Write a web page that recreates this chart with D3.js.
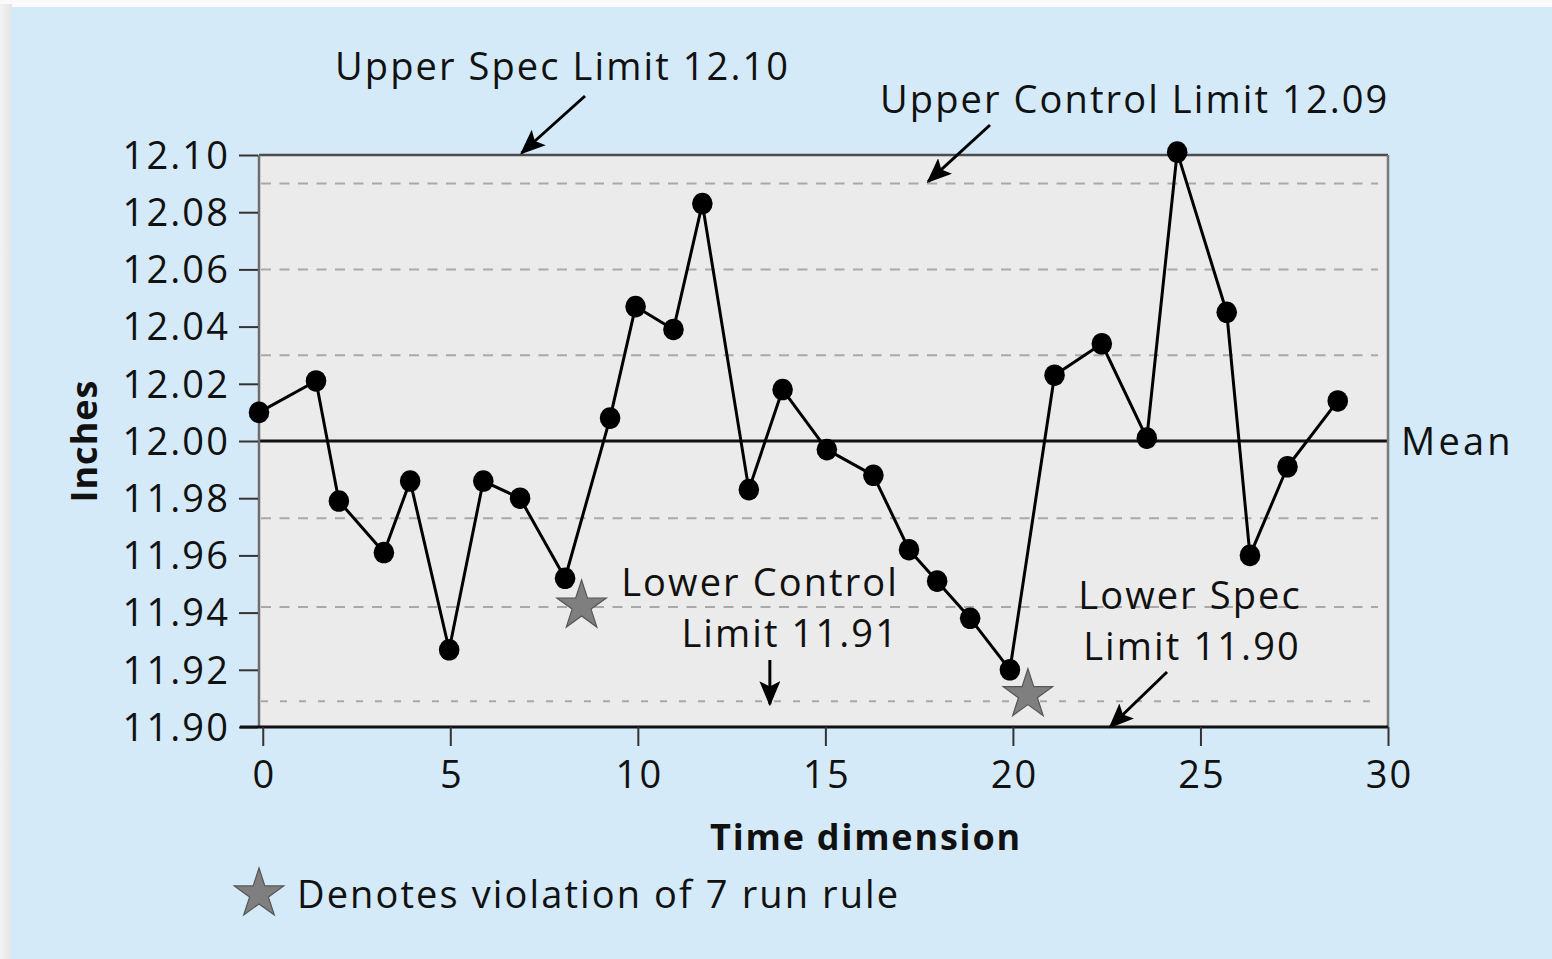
<!DOCTYPE html>
<html>
<head>
<meta charset="utf-8">
<script src="https://cdn.jsdelivr.net/npm/d3@7"></script>
<style>
  html, body { margin: 0; padding: 0; background: #ffffff; }
  svg { display: block; }
  text { font-family: "Open Sans", "Noto Sans", sans-serif; fill: #111; }
</style>
</head>
<body>
<svg id="chart" width="1552" height="959"></svg>
<script>
// ---- data ----
const timeValues = [-0.1, 1.42, 2.03, 3.23, 3.93, 4.97, 5.88, 6.86, 8.06, 9.26,
                    9.94, 10.95, 11.72, 12.96, 13.86, 15.04, 16.28, 17.23, 17.98, 18.86,
                    19.92, 21.11, 22.37, 23.57, 24.38, 25.70, 26.32, 27.32, 28.66];
const inchValues = [12.010, 12.021, 11.979, 11.961, 11.986, 11.927, 11.986, 11.980, 11.952, 12.008,
                    12.047, 12.039, 12.083, 11.983, 12.018, 11.997, 11.988, 11.962, 11.951, 11.938,
                    11.920, 12.023, 12.034, 12.001, 12.101, 12.045, 11.960, 11.991, 12.014];
const starTimes  = [8.50, 20.40];
const starValues = [11.943, 11.912];
const zoneLines  = [12.09, 12.06, 12.03, 11.973, 11.942, 11.909];
const meanValue  = 12.00;
const xTicks = [0, 5, 10, 15, 20, 25, 30];
const yTicks = [12.10, 12.08, 12.06, 12.04, 12.02, 12.00, 11.98, 11.96, 11.94, 11.92, 11.90];
const xDomain = [-0.1, 30];
const yDomain = [11.90, 12.10];

// ---- layout ----
const svg = d3.select("#chart");
const W = 1552, H = 959;
const plot = { left: 259, right: 1388, top: 155, bottom: 727 };
const FS = 38, LS = 2.1;

const x = d3.scaleLinear().domain(xDomain).range([plot.left, plot.right]);
const y = d3.scaleLinear().domain(yDomain).range([plot.bottom, plot.top]);

// background panel
const defs = svg.append("defs");
const grad = defs.append("linearGradient").attr("id", "shadow").attr("x1", 0).attr("x2", 1);
grad.append("stop").attr("offset", "0%").attr("stop-color", "#f3f3f3");
grad.append("stop").attr("offset", "100%").attr("stop-color", "#e4e4e4");
svg.append("rect").attr("x", 0).attr("y", 0).attr("width", W).attr("height", H).attr("fill", "#fbfbfb");
svg.append("rect").attr("x", 0).attr("y", 4).attr("width", 12).attr("height", H).attr("fill", "url(#shadow)");
svg.append("rect").attr("x", 11).attr("y", 7).attr("width", W - 11).attr("height", H - 7).attr("fill", "#d4eaf8");

// plot area
svg.append("rect")
  .attr("x", plot.left).attr("y", plot.top)
  .attr("width", plot.right - plot.left).attr("height", plot.bottom - plot.top)
  .attr("fill", "#ebebeb");

// zone dashed lines
svg.append("g").selectAll("line").data(zoneLines).join("line")
  .attr("x1", plot.left + 2).attr("x2", plot.right - 10)
  .attr("y1", d => y(d)).attr("y2", d => y(d))
  .attr("stroke", "#a9a9a9").attr("stroke-width", 2)
  .attr("stroke-dasharray", (d, i) => i === zoneLines.length - 1 ? "7,12" : "10,8.5");

// mean line
svg.append("line")
  .attr("x1", plot.left).attr("x2", plot.right)
  .attr("y1", y(meanValue)).attr("y2", y(meanValue))
  .attr("stroke", "#111").attr("stroke-width", 3);

// frame
svg.append("line").attr("x1", plot.left).attr("x2", plot.right).attr("y1", plot.top).attr("y2", plot.top)
  .attr("stroke", "#4d4d4d").attr("stroke-width", 2.5);
svg.append("line").attr("x1", plot.left).attr("x2", plot.left).attr("y1", plot.top).attr("y2", plot.bottom)
  .attr("stroke", "#6d6d6d").attr("stroke-width", 2.5);
svg.append("line").attr("x1", plot.right).attr("x2", plot.right).attr("y1", plot.top).attr("y2", plot.bottom)
  .attr("stroke", "#7a7a7a").attr("stroke-width", 2.5);

// y axis
const yAxis = d3.axisLeft(y).tickValues(yTicks).tickFormat(d3.format(".2f")).tickSize(19).tickPadding(9);
const gy = svg.append("g").attr("transform", `translate(${plot.left - 1},0)`).call(yAxis);
gy.select(".domain").remove();
gy.selectAll(".tick line").attr("stroke", "#333").attr("stroke-width", 2);
gy.selectAll(".tick text").attr("font-size", FS).attr("font-family", "Open Sans").attr("fill", "#1a1a1a")
  .attr("letter-spacing", LS).attr("dy", "0.35em");

// x axis
const xAxis = d3.axisBottom(x).tickValues(xTicks).tickFormat(d3.format("d")).tickSize(19).tickPadding(15);
const gx = svg.append("g").attr("transform", `translate(0,${plot.bottom})`).call(xAxis);
gx.select(".domain").attr("stroke", "#111").attr("stroke-width", 3).attr("d", `M${plot.left - 19},0H${plot.right}`);
gx.selectAll(".tick line").attr("stroke", "#333").attr("stroke-width", 2);
gx.selectAll(".tick text").attr("font-size", FS).attr("font-family", "Open Sans").attr("fill", "#1a1a1a")
  .attr("letter-spacing", LS).attr("dx", LS / 2);

// axis titles
svg.append("text").attr("x", 866).attr("y", 850).attr("text-anchor", "middle")
  .attr("font-size", 36).attr("font-weight", "bold").attr("letter-spacing", 1.8).text("Time dimension");
svg.append("text").attr("transform", "translate(97,441) rotate(-90)").attr("text-anchor", "middle")
  .attr("font-size", 36).attr("font-weight", "bold").attr("letter-spacing", 1).text("Inches");

// data line and dots
const pts = timeValues.map((t, i) => [t, inchValues[i]]);
svg.append("path").datum(pts)
  .attr("d", d3.line().x(d => x(d[0])).y(d => y(d[1])))
  .attr("fill", "none").attr("stroke", "#000").attr("stroke-width", 3).attr("stroke-linejoin", "round");
svg.append("g").selectAll("ellipse").data(pts).join("ellipse")
  .attr("cx", d => x(d[0])).attr("cy", d => y(d[1])).attr("rx", 10.3).attr("ry", 10.8).attr("fill", "#000");

// stars
const star = d3.symbol(d3.symbolStar, 760);
const starPts = starTimes.map((t, i) => [t, starValues[i]]);
svg.append("g").selectAll("path").data(starPts).join("path")
  .attr("d", star)
  .attr("transform", d => `translate(${x(d[0])},${y(d[1]) + 2})`)
  .attr("fill", "#7f7f7f").attr("stroke", "#555").attr("stroke-width", 1.2);

// annotations
defs.append("marker").attr("id", "arrow").attr("viewBox", "0 0 12 10")
  .attr("refX", 11).attr("refY", 5).attr("markerWidth", 8.4).attr("markerHeight", 7)
  .attr("markerUnits", "strokeWidth").attr("orient", "auto")
  .append("path").attr("d", "M0,0L12,5L0,10L2.5,5Z").attr("fill", "#000");

function arrow(x1, y1, x2, y2) {
  svg.append("line").attr("x1", x1).attr("y1", y1).attr("x2", x2).attr("y2", y2)
    .attr("stroke", "#000").attr("stroke-width", 3).attr("marker-end", "url(#arrow)");
}
function label(txt, tx, ty, anchor) {
  svg.append("text").attr("x", tx).attr("y", ty).attr("text-anchor", anchor || "start")
    .attr("font-size", FS).attr("letter-spacing", LS).text(txt);
}

label("Upper Spec Limit 12.10", 335, 80);
arrow(585, 96, x(6.9), y(12.10) - 2);
label("Upper Control Limit 12.09", 880, 113);
arrow(990, 125, x(17.74), y(12.09) - 2);
label("Lower Control", 899, 596, "end");
label("Limit 11.91", 899, 647, "end");
arrow(x(13.52), 660, x(13.52), y(11.909) + 3);
label("Lower Spec", 1190, 609, "middle");
label("Limit 11.90", 1192, 660, "middle");
arrow(1167, 672, x(22.59), y(11.90));
svg.append("text").attr("x", 1401).attr("y", 455).attr("font-size", FS).attr("letter-spacing", 3.2).text("Mean");

// legend
svg.append("path").attr("d", d3.symbol(d3.symbolStar, 760))
  .attr("transform", "translate(259,894)")
  .attr("fill", "#7f7f7f").attr("stroke", "#555").attr("stroke-width", 1.2);
label("Denotes violation of 7 run rule", 297, 908);
</script>
</body>
</html>
